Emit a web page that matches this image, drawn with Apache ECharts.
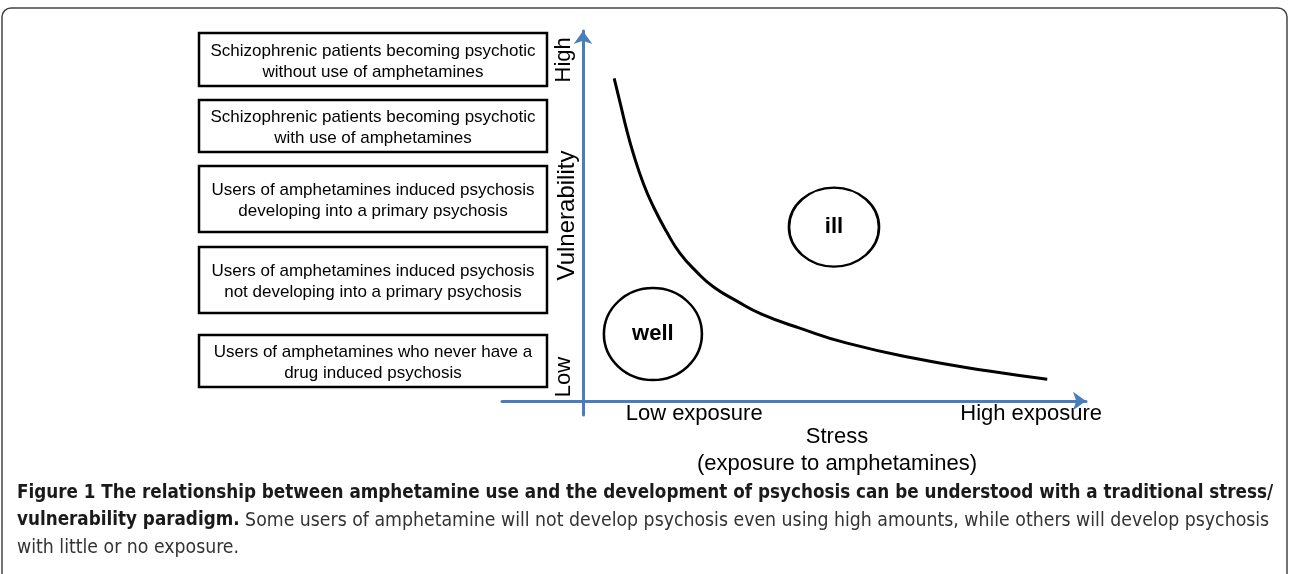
<!DOCTYPE html>
<html>
<head>
<meta charset="utf-8">
<style>
html, body { margin: 0; padding: 0; background: #fff; }
#main { width: 1290px; height: 574px; }
</style>
<script src="https://cdn.jsdelivr.net/npm/echarts@6/dist/echarts.min.js"></script>
</head>
<body>
<div id="main"></div>
<script>
// threshold curve (stress vs vulnerability)
var curveX = [6.2, 7.4, 8.7, 10.0, 12.0, 14.0, 16.6, 19.3, 22.6, 25.9, 30.6, 35.5, 43.1, 52.3, 66.4, 80.7, 92.3];
var curveY = [87.2, 80.5, 73.2, 66.9, 58.8, 52.5, 45.8, 39.9, 34.9, 30.9, 27.0, 23.5, 19.7, 15.7, 11.4, 8.1, 5.9];

// the two regions
var blobNames = ['ill', 'well'];
var blobX = [49.9, 13.9];
var blobY = [47.0, 18.1];

// axis labels
var xTickValues = [22.1, 89.1];
var xTickLabels = ['Low exposure', 'High exposure'];
var yTickValues = [6.5, 92.2];
var yTickLabels = ['Low', 'High'];

// groups of users, from high to low vulnerability
var groupLabels = [
    'Schizophrenic patients becoming psychotic\nwithout use of amphetamines',
    'Schizophrenic patients becoming psychotic\nwith use of amphetamines',
    'Users of amphetamines induced psychosis\ndeveloping into a primary psychosis',
    'Users of amphetamines induced psychosis\nnot developing into a primary psychosis',
    'Users of amphetamines who never have a\ndrug induced psychosis'
];

var captionBold1 = 'Figure 1 The relationship between amphetamine use and the development of psychosis can be understood with a traditional stress/';
var captionBold2 = 'vulnerability paradigm.';
var captionText1 = ' Some users of amphetamine will not develop psychosis even using high amounts, while others will develop psychosis';
var captionText2 = 'with little or no exposure.';

var blue = '#4a7ebb';
var font = '"Liberation Sans", Arial, sans-serif';
var narrow = '"DejaVu Sans Condensed", "Liberation Sans Narrow", sans-serif';

var dom = document.getElementById('main');
var myChart = echarts.init(dom, null, { renderer: 'canvas' });

// boxes on the left
var boxTop = [33, 100, 166, 247, 335];
var boxH = [53, 52, 66, 66, 52];
var boxes = groupLabels.map(function (t, i) {
    return {
        type: 'group',
        x: 199,
        y: boxTop[i],
        children: [
            {
                type: 'rect',
                shape: { x: 0, y: 0, width: 348, height: boxH[i] },
                style: { fill: '#fff', stroke: '#000', lineWidth: 2.5 }
            },
            {
                type: 'text',
                style: {
                    text: t,
                    x: 174,
                    y: boxH[i] / 2 + 2,
                    align: 'center',
                    verticalAlign: 'middle',
                    fontSize: 17,
                    fontFamily: font,
                    lineHeight: 21,
                    fill: '#000'
                }
            }
        ]
    };
});

var option = {
    animation: false,
    title: {
        left: 17,
        top: 480,
        padding: 0,
        text: '{b|' + captionBold1 + '}\n{b|' + captionBold2 + '}{n|' + captionText1 + '}\n{n|' + captionText2 + '}',
        textStyle: {
            fontWeight: 'normal',
            rich: {
                b: { fontFamily: narrow, fontSize: 18.7, fontWeight: 'bold', color: '#1a1a1a', lineHeight: 27 },
                n: { fontFamily: narrow, fontSize: 19.3, color: '#333', lineHeight: 27 }
            }
        }
    },
    graphic: [
        {
            type: 'rect',
            z: -10,
            shape: { x: 2, y: 8, width: 1285, height: 640, r: 9 },
            style: { fill: 'none', stroke: '#444', lineWidth: 1.5 }
        }
    ].concat(boxes),
    grid: {
        left: 502,
        right: 204,
        top: 31,
        bottom: 159,
        containLabel: false,
        outerBoundsMode: 'none'
    },
    xAxis: {
        type: 'value',
        min: -16.1,
        max: 100,
        axisLine: {
            onZero: true,
            symbol: ['none', 'arrow'],
            symbolSize: [14, 13],
            lineStyle: { color: blue, width: 3 }
        },
        axisTick: { show: false },
        splitLine: { show: false },
        axisLabel: {
            customValues: xTickValues,
            formatter: function (v) {
                var i = xTickValues.indexOf(v);
                return i >= 0 ? xTickLabels[i] : '';
            },
            margin: -12,
            fontSize: 22,
            fontFamily: font,
            color: '#000'
        },
        name: 'Stress\n(exposure to amphetamines)',
        nameLocation: 'middle',
        nameGap: 8,
        nameMoveOverlap: false,
        nameTextStyle: {
            fontSize: 22,
            fontFamily: font,
            color: '#000',
            lineHeight: 27,
            padding: [0, 0, 0, 86]
        }
    },
    yAxis: {
        type: 'value',
        min: -3.78,
        max: 100,
        axisLine: {
            onZero: true,
            symbol: ['none', 'arrow'],
            symbolSize: [14, 13],
            lineStyle: { color: blue, width: 3 }
        },
        axisTick: { show: false },
        splitLine: { show: false },
        axisLabel: {
            customValues: yTickValues,
            formatter: function (v) {
                var i = yTickValues.indexOf(v);
                return i >= 0 ? yTickLabels[i] : '';
            },
            rotate: 90,
            margin: -73,
            fontSize: 22,
            fontFamily: font,
            color: '#000'
        },
        name: 'Vulnerability',
        nameLocation: 'middle',
        nameRotate: 90,
        nameGap: -77,
        nameMoveOverlap: false,
        nameTextStyle: {
            fontSize: 24,
            fontFamily: font,
            color: '#000',
            padding: [0, 0, 0, 15]
        }
    },
    series: [
        {
            type: 'line',
            data: curveX.map(function (x, i) { return [x, curveY[i]]; }),
            smooth: 0.5,
            showSymbol: false,
            lineStyle: { color: '#000', width: 3 }
        },
        {
            type: 'scatter',
            data: blobNames.map(function (n, i) {
                return { name: n, value: [blobX[i], blobY[i]] };
            }),
            symbol: 'circle',
            symbolSize: function (v, p) {
                return p.name === 'ill' ? [90, 79] : [98, 92];
            },
            itemStyle: { color: '#fff', borderColor: '#000', borderWidth: 2.5, opacity: 1 },
            label: {
                show: true,
                position: 'inside',
                formatter: '{b}',
                fontSize: 22,
                fontWeight: 'bold',
                fontFamily: font,
                color: '#000'
            }
        }
    ]
};

myChart.setOption(option);
window.addEventListener('resize', myChart.resize);
</script>
</body>
</html>
